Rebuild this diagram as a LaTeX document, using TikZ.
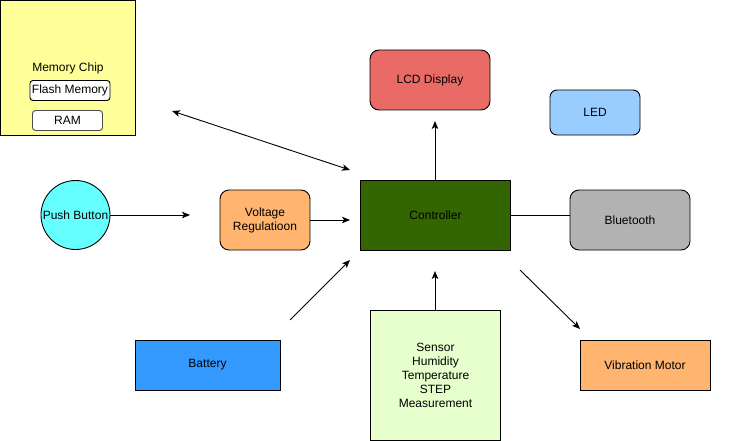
\documentclass[tikz,border=0pt]{standalone}
\usepackage{fontspec}
\setmainfont{Liberation Sans}
\usetikzlibrary{arrows.meta}
\definecolor{memyellow}{HTML}{FFFF99}
\definecolor{pbcyan}{HTML}{66FFFF}
\definecolor{vorange}{HTML}{FFB570}
\definecolor{ctrlgreen}{HTML}{336600}
\definecolor{lcdred}{HTML}{EA6B66}
\definecolor{ledblue}{HTML}{99CCFF}
\definecolor{btgray}{HTML}{B3B3B3}
\definecolor{batblue}{HTML}{3399FF}
\definecolor{sensgreen}{HTML}{E6FFCC}
\tikzset{
  box/.style={draw=black, line width=0.9pt, inner sep=0pt, align=center, font=\fontsize{12}{14}\selectfont},
  rbox/.style={box, rounded corners=9pt},
  conn/.style={line width=0.9pt, -{Stealth[length=8pt,width=6.5pt,inset=2pt]}},
  dconn/.style={line width=0.9pt, {Stealth[length=8pt,width=6.5pt,inset=2pt]}-{Stealth[length=8pt,width=6.5pt,inset=2pt]}},
  plain/.style={line width=0.9pt},
  lbl/.style={inner sep=0pt, font=\fontsize{12}{14}\selectfont}
}
\begin{document}
\begin{tikzpicture}[x=1pt,y=-1pt]
\useasboundingbox (0,0) rectangle (741,441);
% Memory chip
\node[box, fill=memyellow, minimum width=135pt, minimum height=134.5pt] (mem) at (67.75,67.75) {};
\node[lbl] (memlbl) at (68,68) {Memory Chip};
\node[box, rounded corners=3pt, fill=white, minimum width=80pt, minimum height=20pt] (flash) at (70,90.5) {Flash Memory};
\node[box, rounded corners=3pt, fill=white, draw=black!70, minimum width=70pt, minimum height=20pt] (ram) at (67.5,120.5) {RAM};
% Push button
\node[box, circle, fill=pbcyan, minimum size=69pt] (pb) at (75.5,215) {Push Button};
% Voltage
\node[rbox, fill=vorange, minimum width=90pt, minimum height=60pt] (volt) at (265,220) {Voltage\\Regulatioon};
% Controller
\node[box, fill=ctrlgreen, minimum width=150pt, minimum height=70pt] (ctrl) at (435.5,215) {Controller};
% LCD
\node[rbox, fill=lcdred, minimum width=120pt, minimum height=60pt] (lcd) at (430,80) {LCD Display};
% LED
\node[box, rounded corners=7pt, fill=ledblue, minimum width=90pt, minimum height=45pt] (led) at (595,112.5) {LED};
% Bluetooth
\node[rbox, fill=btgray, minimum width=120pt, minimum height=60pt] (bt) at (630,220) {Bluetooth};
% Battery
\node[box, fill=batblue, minimum width=145pt, minimum height=50pt] (bat) at (207.5,365) {Battery};
% Sensor
\node[box, fill=sensgreen, minimum width=130pt, minimum height=130pt] (sens) at (435.5,375) {Sensor\\Humidity\\Temperature\\STEP\\Measurement};
% Vibration motor
\node[box, fill=vorange, minimum width=130pt, minimum height=50pt] (vib) at (645,365) {Vibration Motor};
% free ends
\coordinate (memend) at (172,111);
\coordinate (ctrlnw) at (350,170);
\coordinate (pbend) at (190,215);
\coordinate (voltend) at (350,220);
\coordinate (lcdend) at (435,121);
\coordinate (batstart) at (290,320);
\coordinate (batend) at (350,260);
\coordinate (sensend) at (435,271);
\coordinate (vibstart) at (520,270);
\coordinate (vibend) at (580,329);
% connectors
\draw[dconn] (memend) -- (ctrlnw);
\draw[conn] (pb.east) -- (pbend);
\draw[conn] (volt.east) -- (voltend);
\draw[conn] (ctrl.north -| lcdend) -- (lcdend);
\draw[plain] (ctrl.east) -- (bt.west |- ctrl.east);
\draw[conn] (batstart) -- (batend);
\draw[conn] (sens.north -| sensend) -- (sensend);
\draw[conn] (vibstart) -- (vibend);
\end{tikzpicture}
\end{document}
